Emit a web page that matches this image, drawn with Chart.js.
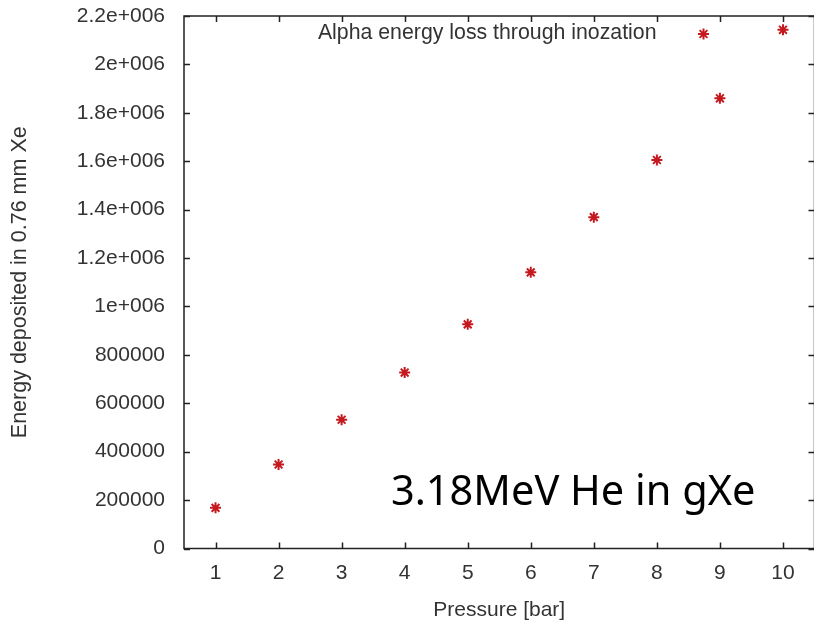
<!DOCTYPE html>
<html>
<head>
<meta charset="utf-8">
<title>Alpha energy loss through inozation</title>
<script src="https://cdn.jsdelivr.net/npm/chart.js@4.4.1/dist/chart.umd.min.js"></script>
<style>
  html, body { margin: 0; padding: 0; background: #fff; overflow: hidden; }
  #wrap { width: 822px; height: 624px; }
</style>
</head>
<body>
<div id="wrap"><canvas id="lossChart" width="822" height="624"></canvas></div>
<script>
// pressure in bar
const pressures = [1, 2, 3, 4, 5, 6, 7, 8, 9, 10]
// energy deposited in 0.76 mm Xe
const energies = [168000, 347000, 532000, 727000, 926000, 1141000, 1369000, 1605000, 1860000, 2143000]

const xTicks = [1, 2, 3, 4, 5, 6, 7, 8, 9, 10]
const yTicks = [0, 200000, 400000, 600000, 800000, 1000000, 1200000, 1400000, 1600000, 1800000, 2000000, 2200000]
const yTickLabels = ['0', '200000', '400000', '600000', '800000', '1e+006', '1.2e+006', '1.4e+006', '1.6e+006', '1.8e+006', '2e+006', '2.2e+006']

const seriesLabel = 'Alpha energy loss through inozation'
const noteText = '3.18MeV He in gXe'

const markColor = '#c41a1f'
const frameColor = '#222'
const textColor = '#333'
const labelFont = "'Liberation Sans', Arial, sans-serif"

/**
 * gnuplot style box: full frame and inward ticks on every side.
 */
const frameTicks = {
  id: 'frameTicks',
  afterDatasetsDraw (chart) {
    const { ctx, chartArea: a, scales: { x, y } } = chart
    ctx.save()
    ctx.strokeStyle = frameColor
    ctx.lineWidth = 1.5
    ctx.strokeRect(a.left, a.top, a.right - a.left, a.bottom - a.top)
    ctx.beginPath()
    x.ticks.forEach(t => {
      const px = Math.round(x.getPixelForValue(t.value)) + 0.5
      ctx.moveTo(px, a.bottom); ctx.lineTo(px, a.bottom - 6)
      ctx.moveTo(px, a.top); ctx.lineTo(px, a.top + 6)
    })
    y.ticks.forEach(t => {
      const py = Math.round(y.getPixelForValue(t.value)) + 0.5
      ctx.moveTo(a.left, py); ctx.lineTo(a.left + 6, py)
      ctx.moveTo(a.right, py); ctx.lineTo(a.right - 6, py)
    })
    ctx.stroke()
    ctx.restore()
  }
}

/**
 * Key in the top right corner (text first, sample after it) and the note.
 */
const keyAndNote = {
  id: 'keyAndNote',
  afterDraw (chart) {
    const { ctx, chartArea: a } = chart
    const ds = chart.data.datasets[0]
    ctx.save()
    ctx.fillStyle = textColor
    ctx.font = '21.3px ' + labelFont
    ctx.textAlign = 'right'
    ctx.textBaseline = 'middle'
    ctx.fillText(ds.label, a.right - 158, a.top + 17)

    ctx.strokeStyle = ds.borderColor
    ctx.fillStyle = ds.borderColor
    ctx.lineWidth = ds.borderWidth
    Chart.helpers.drawPoint(ctx, { pointStyle: 'star', radius: ds.pointRadius, borderWidth: ds.borderWidth }, a.right - 111, a.top + 18)

    ctx.fillStyle = '#000'
    ctx.font = "41.5px 'Noto Sans', 'Open Sans', sans-serif"
    ctx.textAlign = 'left'
    ctx.textBaseline = 'alphabetic'
    ctx.fillText(noteText, 391, 505)
    ctx.restore()
  }
}

document.addEventListener('DOMContentLoaded', () => {
  const ctx = document.getElementById('lossChart').getContext('2d')

  new Chart(ctx, {
    type: 'scatter',
    data: {
      datasets: [{
        label: seriesLabel,
        data: pressures.map((p, i) => ({ x: p, y: energies[i] })),
        pointStyle: 'star',
        pointRadius: 5.5,
        pointHoverRadius: 5.5,
        borderColor: markColor,
        backgroundColor: markColor,
        borderWidth: 2
      }]
    },
    options: {
      responsive: false,
      animation: false,
      layout: { padding: { top: 0, right: 4, left: 0, bottom: 0 } },
      plugins: {
        legend: { display: false },
        tooltip: { enabled: false }
      },
      scales: {
        x: {
          type: 'linear',
          min: 0.5,
          max: 10.5,
          afterBuildTicks: scale => { scale.ticks = xTicks.map(v => ({ value: v })) },
          afterFit: scale => { scale.height = 75.5 },
          grid: { display: false, drawTicks: false },
          border: { display: false },
          ticks: {
            padding: 12,
            color: textColor,
            font: { family: labelFont, size: 21 },
            callback: v => String(v)
          },
          title: {
            display: true,
            text: 'Pressure [bar]',
            color: textColor,
            font: { family: labelFont, size: 21 },
            padding: { top: 0, bottom: 1 }
          }
        },
        y: {
          type: 'linear',
          min: 0,
          max: 2200000,
          afterBuildTicks: scale => { scale.ticks = yTicks.map(v => ({ value: v })) },
          afterFit: scale => {
            scale.width = 184
            scale.paddingTop = 16
            scale.paddingBottom = 0
          },
          grid: { display: false, drawTicks: false },
          border: { display: false },
          ticks: {
            padding: 19,
            color: textColor,
            font: { family: labelFont, size: 21 },
            callback: (v, i) => yTickLabels[i]
          },
          title: {
            display: true,
            text: 'Energy deposited in 0.76 mm Xe',
            color: textColor,
            font: { family: labelFont, size: 21.5 },
            padding: { top: 7, bottom: 0 }
          }
        }
      }
    },
    plugins: [frameTicks, keyAndNote]
  })
})
</script>
</body>
</html>
